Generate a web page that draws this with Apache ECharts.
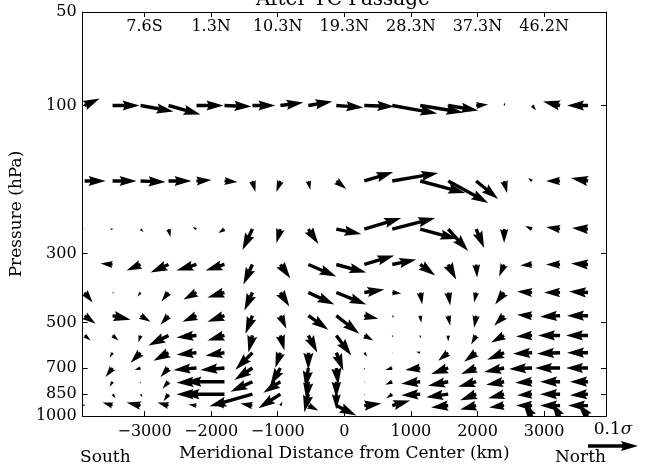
<!DOCTYPE html>
<html>
<head>
<meta charset="utf-8">
<script src="https://cdn.jsdelivr.net/npm/echarts@6/dist/echarts.min.js"></script>
<style>
html, body { margin: 0; padding: 0; background: #fff; }
#chart { width: 647px; height: 467px; }
</style>
</head>
<body>
<div id="chart"></div>
<script>
// grid: meridional distance (km) and pressure levels (hPa)
var dist = [-3900, -3480, -3060, -2640, -2220, -1800, -1380, -960, -540, -120,
            300, 720, 1140, 1560, 1980, 2400, 2820, 3240, 3660];
var levels = [100, 175, 250, 325, 400, 475, 550, 625, 700, 775, 850, 925, 1000];

// axis ticks
var distTicks = [-3000, -2000, -1000, 0, 1000, 2000, 3000];
var latLabels = ['7.6S', '1.3N', '10.3N', '19.3N', '28.3N', '37.3N', '46.2N'];
var presTicks = [50, 100, 300, 500, 700, 850, 1000];

// meridional component (1e-3 sigma), one row per level
var vComp = [
    [30, 54, 66, 64, 54, 54, 46, 46, 48, 54, 60, 90, 86, 60, 24, 2, 8, -34, -42],
    [42, 48, 50, 46, 30, 26, 6, -8, 4, 20, 58, 92, 90, 80, 44, 6, -8, -28, -34],
    [2, -6, 6, 4, -8, -12, -20, -8, 20, 50, 74, 86, 74, 40, 16, 0, -14, -28, -32],
    [0, -24, -28, -36, -40, -38, -18, 20, 56, 60, 60, 48, 30, 16, 2, -10, -24, -28, -34],
    [16, 4, -6, -14, -26, -34, -16, 18, 52, 60, 40, 18, 4, 4, -4, -18, -30, -32, -38],
    [22, 36, 20, -16, -28, -34, -14, 12, 40, 46, 28, 4, 2, 4, -4, -20, -30, -40, -42],
    [12, 12, -4, -40, -40, -34, -8, 8, 18, 30, 18, 2, 0, 0, -10, -26, -32, -44, -44],
    [0, -6, -20, -30, -40, -38, -34, -10, 0, 14, 6, 0, -8, -20, -24, -34, -38, -46, -42],
    [0, -14, -12, -16, -46, -48, -36, -20, -6, 4, 0, -14, -30, -34, -30, -40, -46, -50, -44],
    [0, -6, 0, -12, -40, -80, -44, -34, -4, 0, 2, -14, -38, -40, -36, -36, -34, -40, -36],
    [0, 6, 4, -10, -40, -84, -86, -44, -8, 0, 2, -12, -38, -44, -32, -32, -30, -40, -36],
    [-6, -20, -28, -22, -16, -20, -24, 4, 20, 40, 34, 36, 0, -34, -32, -30, -32, -40, -40],
    [0, 0, 0, 0, 0, 0, 0, 0, 0, 0, 0, 0, 0, 0, 0, 0, -18, -16, -20]
];
// vertical component (1e-3 sigma, positive = downward)
var wComp = [
    [-14, 0, 12, 18, 0, 2, 0, -6, -8, 4, 2, 16, 14, 10, -2, -6, 10, -8, 0],
    [0, 0, 2, 0, -2, 2, 22, 22, 18, 16, -18, -16, 24, 44, 36, 24, -6, 0, -6],
    [0, 0, 6, 16, -4, 8, 42, 28, 30, 10, -22, -22, 20, 44, 38, 28, -6, -4, -2],
    [0, -2, 12, 16, 12, 12, 40, 28, 24, 16, -18, -10, 22, 30, 26, 24, 2, 0, -2],
    [20, 2, 8, 18, 14, 10, 36, 28, 24, 24, -6, 2, 24, 26, 20, 24, -2, 0, -2],
    [16, 8, 12, 18, 12, 12, 36, 26, 28, 36, 6, 4, 14, 20, 24, 20, -2, 2, 0],
    [10, 10, 14, 20, 4, 10, 34, 30, 34, 40, 10, 4, 6, 12, 18, 14, 2, 0, 0],
    [0, 10, 20, 16, 4, 6, 34, 30, 34, 36, 8, 2, -2, 16, 18, 14, 2, 2, 0],
    [0, 18, 4, 18, 4, 4, 24, 34, 40, 34, 4, 4, 4, 12, 12, 8, 2, 0, 0],
    [0, 10, 4, 14, 2, 0, 20, 22, 36, 32, 2, 6, 4, 8, 10, 6, 2, 0, 0],
    [0, 8, 6, 14, 0, 0, 24, 28, 36, 30, 2, 8, 2, 6, 12, 8, 2, 0, 2],
    [-2, -6, -6, -6, -2, -2, -4, -8, 10, 20, -4, -10, 0, 4, 8, 4, 0, 0, 0],
    [0, 0, 0, 0, 0, 0, 0, 0, 0, 0, 0, 0, 0, 0, 0, 0, -26, -26, -24]
];
var keyValue = 100; // 0.1 sigma

// quiver look
var PX_PER_UNIT = 0.5;
var SHAFT_W = 3.4, HEAD_W = 3 * SHAFT_W, HEAD_LEN = 5 * SHAFT_W, HEAD_AXIS = 4.5 * SHAFT_W;
var FONT = 'DejaVu Serif';

function arrowPoints(x, y, dx, dy) {
    var len = Math.sqrt(dx * dx + dy * dy);
    if (len < 0.3) return [];
    var s = 1, L = len;
    if (len < HEAD_LEN) { s = len / HEAD_LEN; L = HEAD_LEN; }
    var hw = SHAFT_W / 2;
    var pts = [[0, -hw], [L - HEAD_AXIS, -hw], [L - HEAD_LEN, -HEAD_W / 2], [L, 0],
               [L - HEAD_LEN, HEAD_W / 2], [L - HEAD_AXIS, hw], [0, hw]];
    var c = dx / len, sn = dy / len;
    return pts.map(function (p) {
        return [x + s * (p[0] * c - p[1] * sn), y + s * (p[0] * sn + p[1] * c)];
    });
}

var quiverData = [];
for (var j = 0; j < levels.length; j++) {
    for (var i = 0; i < dist.length; i++) {
        quiverData.push([dist[i], Math.log10(levels[j]), vComp[j][i], wComp[j][i]]);
    }
}

var chart = echarts.init(document.getElementById('chart'));
var tickStyle = { show: true, inside: true, length: 5, lineStyle: { color: '#000', width: 1 } };
var lineStyle = { show: true, onZero: false, lineStyle: { color: '#000', width: 1 } };
var labelStyle = { color: '#000', fontFamily: FONT, fontSize: 16 };

var option = {
    animation: false,
    backgroundColor: '#fff',
    grid: { left: 80, right: 41, top: 12, bottom: 49 },
    xAxis: [
        {
            type: 'value', min: -3930, max: 3930, position: 'bottom',
            axisLine: lineStyle,
            axisTick: Object.assign({ customValues: distTicks }, tickStyle),
            axisLabel: Object.assign({
                customValues: distTicks, margin: 8,
                formatter: function (v) { return v < 0 ? '\u2212' + Math.abs(v) : String(v); }
            }, labelStyle),
            splitLine: { show: false },
            name: 'Meridional Distance from Center (km)',
            nameLocation: 'middle', nameGap: 22,
            nameTextStyle: { color: '#000', fontFamily: FONT, fontSize: 17 }
        },
        {
            type: 'value', min: -3930, max: 3930, position: 'top',
            axisLine: lineStyle,
            axisTick: Object.assign({ customValues: distTicks }, tickStyle),
            axisLabel: Object.assign({
                customValues: distTicks, inside: true, margin: 7,
                formatter: function (v) { return latLabels[distTicks.indexOf(v)]; }
            }, labelStyle),
            splitLine: { show: false }
        }
    ],
    yAxis: [
        {
            type: 'value', inverse: true, position: 'left',
            min: Math.log10(50), max: Math.log10(1000),
            axisLine: lineStyle,
            axisTick: Object.assign({ customValues: presTicks.map(Math.log10) }, tickStyle),
            axisLabel: Object.assign({
                customValues: presTicks.map(Math.log10), margin: 6,
                formatter: function (v) { return String(Math.round(Math.pow(10, v))); }
            }, labelStyle),
            splitLine: { show: false },
            name: 'Pressure (hPa)', nameLocation: 'middle', nameGap: 49, nameRotate: 90,
            nameTextStyle: { color: '#000', fontFamily: FONT, fontSize: 17 }
        },
        {
            type: 'value', inverse: true, position: 'right',
            min: Math.log10(50), max: Math.log10(1000),
            axisLine: lineStyle,
            axisTick: Object.assign({ customValues: presTicks.map(Math.log10) }, tickStyle),
            axisLabel: { show: false },
            splitLine: { show: false }
        }
    ],
    series: [{
        type: 'custom',
        clip: true,
        data: quiverData,
        renderItem: function (params, api) {
            var p = api.coord([api.value(0), api.value(1)]);
            var pts = arrowPoints(p[0], p[1], api.value(2) * PX_PER_UNIT, api.value(3) * PX_PER_UNIT);
            return { type: 'polygon', shape: { points: pts }, style: { fill: '#000' } };
        }
    }],
    graphic: [
        { type: 'text', x: 343, y: 10, style: { text: 'After TC Passage', fill: '#000', font: '20px "DejaVu Serif"', align: 'center', verticalAlign: 'bottom' } },
        { type: 'text', x: 80, y: 466, style: { text: 'South', fill: '#000', font: '17px "DejaVu Serif"', align: 'left', verticalAlign: 'bottom' } },
        { type: 'text', x: 606, y: 466, style: { text: 'North', fill: '#000', font: '17px "DejaVu Serif"', align: 'right', verticalAlign: 'bottom' } },
        {
            type: 'text', x: 613, y: 438,
            style: {
                text: '{n|0.1}{s|\u03c3}', align: 'center', verticalAlign: 'bottom',
                rich: {
                    n: { fill: '#000', fontFamily: FONT, fontSize: 17 },
                    s: { fill: '#000', fontFamily: FONT, fontSize: 17, fontStyle: 'italic' }
                }
            }
        },
        { type: 'polygon', shape: { points: arrowPoints(588, 446, keyValue * PX_PER_UNIT, 0) }, style: { fill: '#000' } }
    ]
};
chart.setOption(option);
</script>
</body>
</html>
